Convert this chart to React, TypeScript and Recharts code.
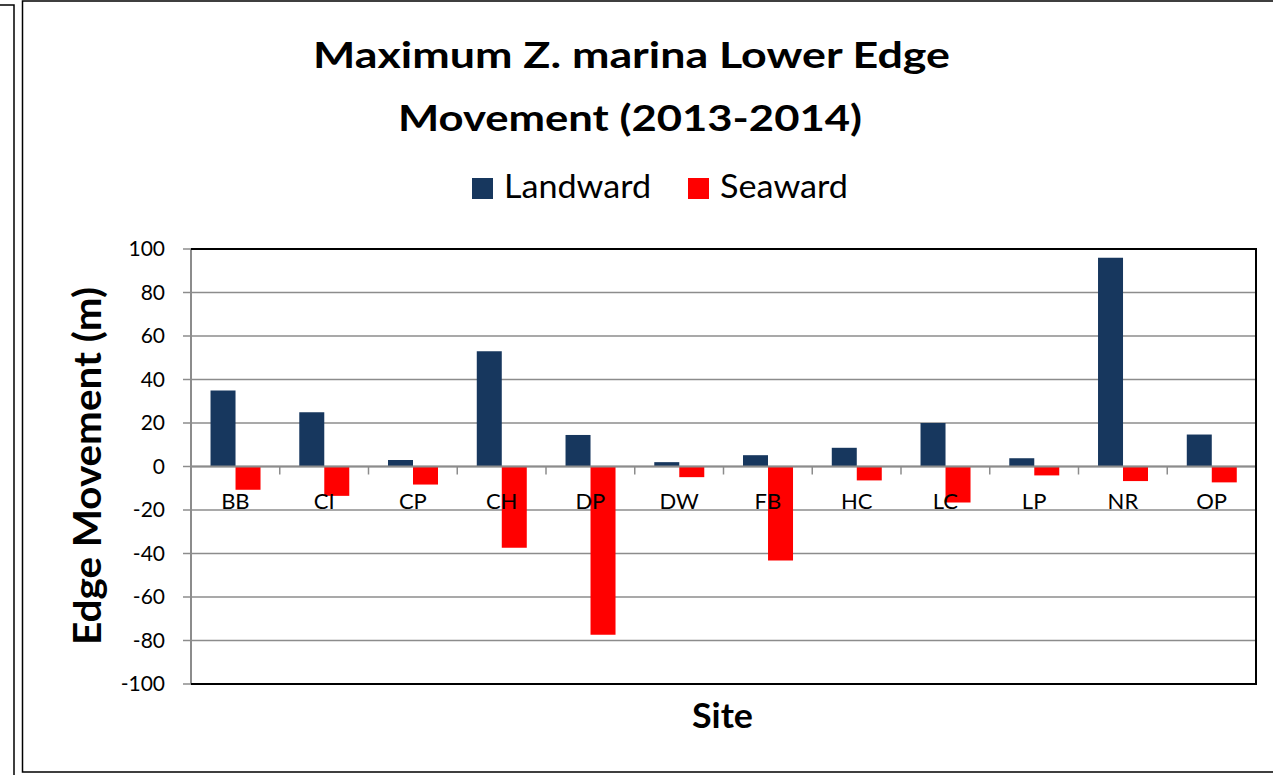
import React from 'react';
import { BarChart, Bar, XAxis, YAxis, CartesianGrid, ReferenceLine, Legend } from 'recharts';

const sites = ['BB', 'CI', 'CP', 'CH', 'DP', 'DW', 'FB', 'HC', 'LC', 'LP', 'NR', 'OP'];
const landward = [35, 25, 3, 53, 14.5, 2, 5.2, 8.6, 20, 3.8, 96, 14.7];
const seaward = [-10.7, -13.5, -8.3, -37.4, -77.3, -4.9, -43.2, -6.4, -16.5, -4.1, -6.7, -7.3];
const yTicks = [-100, -80, -60, -40, -20, 0, 20, 40, 60, 80, 100];
const seriesNames = ['Landward', 'Seaward'];
const seriesKeys = ['landward', 'seaward'];
const seriesColors = ['#17375E', '#FF0000'];
const titleLines = ['Maximum Z. marina Lower Edge', 'Movement (2013-2014)'];
const yAxisTitle = 'Edge Movement (m)';
const xAxisTitle = 'Site';

const data = sites.map((s, i) => ({ site: s, landward: landward[i], seaward: seaward[i] }));

const W = 1273;
const H = 775;
const PLOT_LEFT = 191;
const PLOT_TOP = 249;
const PLOT_RIGHT = 1256;
const PLOT_BOTTOM = 684;
const PLOT_W = PLOT_RIGHT - PLOT_LEFT;
const PLOT_H = PLOT_BOTTOM - PLOT_TOP;
const Y_MIN = yTicks[0];
const Y_MAX = yTicks[yTicks.length - 1];
const Y_AXIS_W = 60;
const X_AXIS_H = 30;
const GRID = '#8C8C8C';
const FONT = 'Lato, "Open Sans", sans-serif';

const zeroY = PLOT_TOP + (PLOT_H * Y_MAX) / (Y_MAX - Y_MIN);

const XTick = (props: any) => {
  const { x, index, payload } = props;
  const band = PLOT_W / sites.length;
  return (
    <g>
      <line x1={x - band / 2} x2={x - band / 2} y1={zeroY} y2={zeroY + 8} stroke={GRID} strokeWidth={1.5} />
      {index === sites.length - 1 && (
        <line x1={x + band / 2} x2={x + band / 2} y1={zeroY} y2={zeroY + 8} stroke={GRID} strokeWidth={1.5} />
      )}
      <text x={x} y={zeroY + 42} textAnchor="middle" fontFamily={FONT} fontSize={22} fill="#000">
        {payload.value}
      </text>
    </g>
  );
};

const legendTextLen = [147, 128];
const LegendContent = () => {
  const sq = 21;
  const gapIcon = 11;
  const gapItem = 37;
  const total = seriesNames.reduce((a, _, i) => a + sq + gapIcon + legendTextLen[i], 0) + gapItem * (seriesNames.length - 1);
  let cx = 660 - total / 2;
  const items = seriesNames.map((n, i) => {
    const x0 = cx;
    cx += sq + gapIcon + legendTextLen[i] + gapItem;
    return (
      <g key={n}>
        <rect x={x0} y={13} width={sq} height={sq} fill={seriesColors[i]} />
        <text x={x0 + sq + gapIcon} y={33} fontFamily={FONT} fontSize={32} fill="#000" textLength={legendTextLen[i]} lengthAdjust="spacingAndGlyphs">
          {n}
        </text>
      </g>
    );
  });
  return (
    <svg width={W} height={50} style={{ display: 'block' }}>
      {items}
    </svg>
  );
};

export default function App() {
  return (
    <div style={{ position: 'absolute', left: 0, top: 0, width: W, height: H, background: '#fff' }}>
      <BarChart
        width={W}
        height={H}
        data={data}
        margin={{ top: PLOT_TOP, right: W - PLOT_RIGHT, bottom: H - PLOT_BOTTOM - X_AXIS_H, left: PLOT_LEFT - Y_AXIS_W }}
        barCategoryGap="22%"
        barGap={0}
      >
        <CartesianGrid horizontal={true} vertical={false} stroke={GRID} strokeWidth={1.5} />
        <YAxis
          domain={[Y_MIN, Y_MAX]}
          ticks={yTicks}
          interval={0}
          width={Y_AXIS_W}
          tickSize={8}
          tickMargin={18}
          axisLine={{ stroke: GRID, strokeWidth: 2 }}
          tickLine={{ stroke: GRID, strokeWidth: 1.5 }}
          tick={{ fontFamily: FONT, fontSize: 21, fill: '#000' }}
        />
        {seriesKeys.map((k, i) => (
          <Bar key={k} dataKey={k} name={seriesNames[i]} fill={seriesColors[i]} isAnimationActive={false} />
        ))}
        <ReferenceLine y={0} stroke={GRID} strokeWidth={2} />
        <XAxis dataKey="site" height={X_AXIS_H} axisLine={false} tickLine={false} interval={0} tick={<XTick />} />
        <Legend
          layout="horizontal"
          verticalAlign="middle"
          content={<LegendContent />}
          wrapperStyle={{ position: 'absolute', left: 0, top: 165, width: W, height: 50 }}
        />
      </BarChart>
      <svg width={W} height={H} style={{ position: 'absolute', left: 0, top: 0, pointerEvents: 'none' }}>
        <polyline points={`0,5 14,5 14,${H}`} fill="none" stroke="#000" strokeWidth={1.5} />
        <polyline points={`${W},1 22.5,1 22.5,772 ${W},772`} fill="none" stroke="#000" strokeWidth={1.5} />
        <polyline points={`${PLOT_LEFT},${PLOT_TOP} ${PLOT_RIGHT},${PLOT_TOP} ${PLOT_RIGHT},${PLOT_BOTTOM} ${PLOT_LEFT},${PLOT_BOTTOM}`} fill="none" stroke="#000" strokeWidth={2} />
        <text x={313} y={68} fontFamily={FONT} fontWeight="bold" fontSize={37} fill="#000" textLength={637} lengthAdjust="spacingAndGlyphs">
          {titleLines[0]}
        </text>
        <text x={398} y={131} fontFamily={FONT} fontWeight="bold" fontSize={37} fill="#000" textLength={464} lengthAdjust="spacingAndGlyphs">
          {titleLines[1]}
        </text>
        <text
          x={0}
          y={0}
          transform={`translate(101, ${(287 + 645) / 2}) rotate(-90)`}
          textAnchor="middle"
          fontFamily={FONT}
          fontWeight="bold"
          fontSize={38}
          fill="#000"
          textLength={358}
          lengthAdjust="spacingAndGlyphs"
        >
          {yAxisTitle}
        </text>
        <text x={692} y={728} fontFamily={FONT} fontWeight="bold" fontSize={35} fill="#000" textLength={61} lengthAdjust="spacingAndGlyphs">
          {xAxisTitle}
        </text>
      </svg>
    </div>
  );
}
